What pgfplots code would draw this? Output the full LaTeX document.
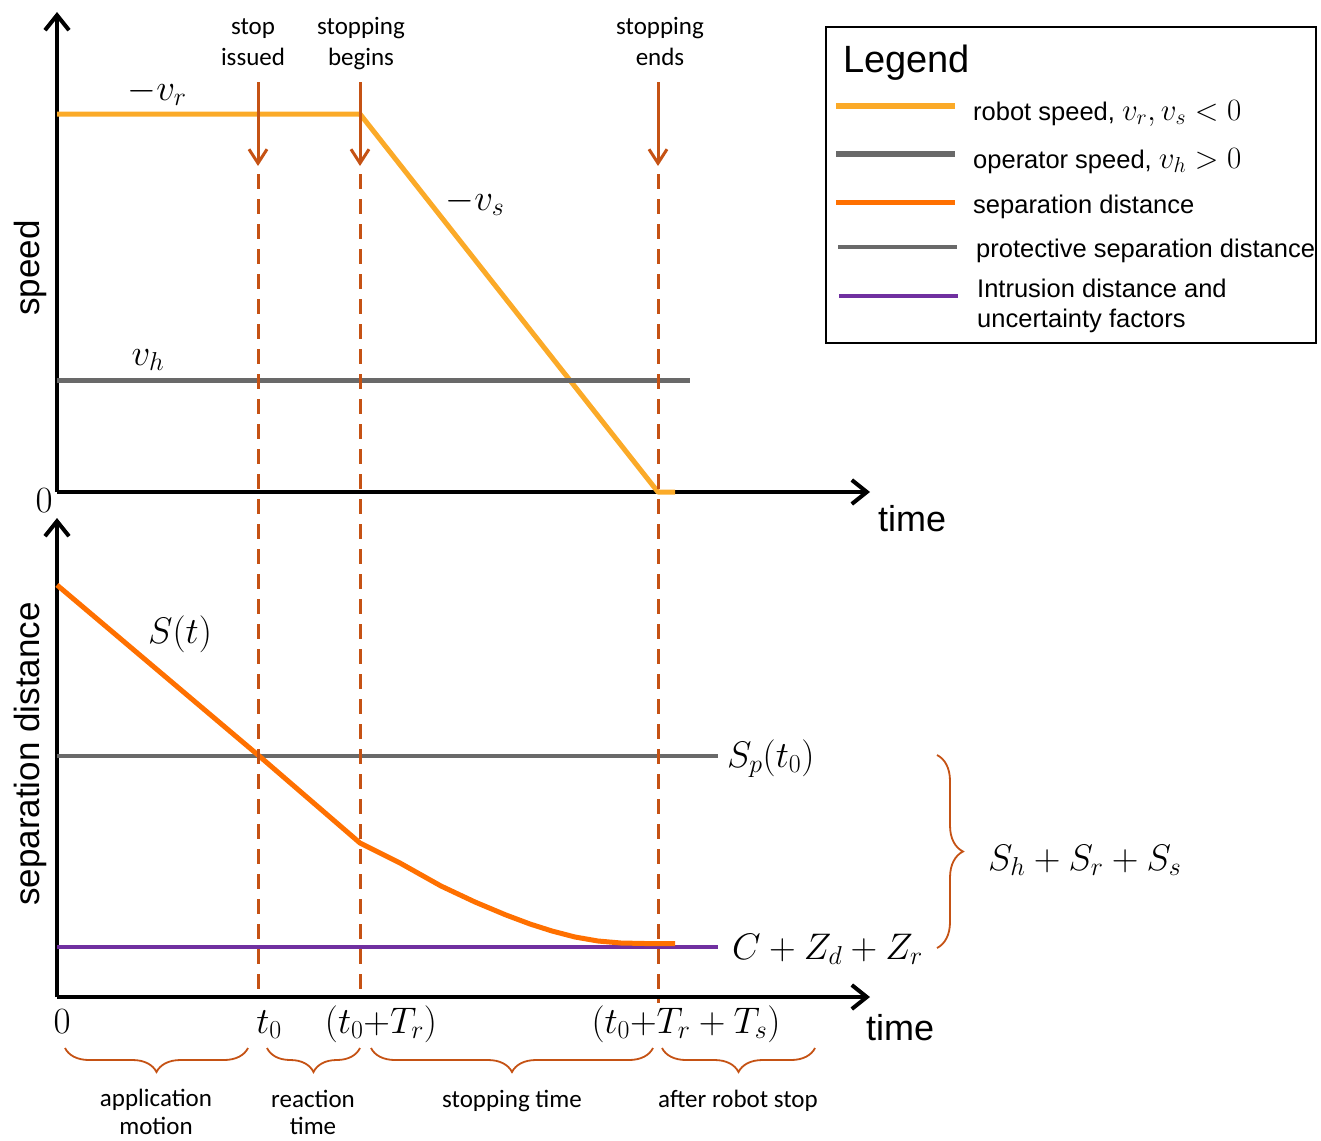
\RequirePackage{fix-cm}
\documentclass[border=0pt]{standalone}
\usepackage{fontspec}
\setmainfont{Liberation Sans}
\newfontfamily\calfont{Carlito}
\usepackage{pgfplots}
\pgfplotsset{compat=1.18}
\usetikzlibrary{arrows.meta,decorations.pathreplacing}

\definecolor{robot}{RGB}{251,170,40}
\definecolor{sepd}{RGB}{255,112,0}
\definecolor{opgray}{RGB}{105,105,105}
\definecolor{intr}{RGB}{112,48,160}
\definecolor{dashc}{RGB}{197,82,20}

\newcommand{\mfont}{\fontsize{37}{44}\selectfont}
\newcommand{\cfont}{\calfont\fontsize{25}{30}\selectfont}
\newcommand{\lfont}{\fontsize{25.5}{30}\selectfont}
\newcommand{\lm}[1]{{\fontsize{31}{36}\selectfont$#1$}}

\begin{document}
\begin{tikzpicture}[x=1pt,y=1pt]
\pgfplotsset{pxaxis/.style={scale only axis, width=813pt, xmin=57, xmax=870,
  axis lines=left, axis line style={line width=4pt,-{Straight Barb[length=15pt,width=24pt]}},
  xtick=\empty, ytick=\empty, clip=false}}

% upper: speed
\begin{axis}[pxaxis, at={(57pt,-492pt)}, anchor=south west, height=480pt, ymin=-492, ymax=-12]
\addplot[robot, line width=5pt, line join=round] coordinates {(57,-114) (360,-114) (658,-492) (675,-492)};
\addplot[opgray, line width=5pt] coordinates {(57,-380) (690,-380)};
\end{axis}

% lower: separation distance
\begin{axis}[pxaxis, at={(57pt,-997pt)}, anchor=south west, height=479pt, ymin=-997, ymax=-518]
\addplot[opgray, line width=4pt] coordinates {(57,-756) (718,-756)};
\addplot[intr, line width=4pt] coordinates {(57,-947) (718,-947)};
\addplot[sepd, line width=5pt, line join=round] coordinates {
(57,-585) (258,-755) (360,-843) (400,-863) (441,-886) (475,-902) (506,-915)
(530,-924) (552,-931) (575,-937) (598,-941) (621,-943) (645,-943.5) (675,-943.5)};
\end{axis}

% dashed event lines and arrows
\foreach \xx/\yb in {258/997, 360/997, 658/1003}{
  \draw[dashc, line width=3pt, dash pattern=on 15pt off 10pt] (\xx,-174) -- (\xx,-\yb);
  \draw[dashc, line width=3pt, -{Straight Barb[length=14pt,width=18pt]}] (\xx,-82) -- (\xx,-166);
}

% event labels
\node[font=\cfont, anchor=base] at (253,-35) {stop};
\node[font=\cfont, anchor=base] at (253,-65) {issued};
\node[font=\cfont, anchor=base] at (361,-35) {stopping};
\node[font=\cfont, anchor=base] at (361,-65) {begins};
\node[font=\cfont, anchor=base] at (660,-35) {stopping};
\node[font=\cfont, anchor=base] at (660,-65) {ends};

% math labels upper
\node[font=\mfont, anchor=base] at (157,-100) {$-v_r$};
\node[font=\mfont, anchor=base] at (475,-210) {$-v_s$};
\node[font=\mfont, anchor=base] at (148,-365) {$v_h$};
\node[font=\mfont, anchor=base] at (44,-512) {$0$};

% axis titles
\node[font=\fontsize{35}{42}\selectfont, rotate=90] at (30,-268) {speed};
\node[font=\fontsize{35}{42}\selectfont, rotate=90] at (30,-754) {separation distance};
\node[font=\fontsize{36}{43}\selectfont, anchor=base west, inner sep=0] at (878,-531) {time};
\node[font=\fontsize{36}{43}\selectfont, anchor=base west, inner sep=0] at (866,-1040) {time};

% lower labels
\node[font=\mfont, anchor=base] at (180,-643) {$S(t)$};
\node[font=\mfont, anchor=base west, inner sep=0] at (727,-767) {$S_p(t_0)$};
\node[font=\mfont, anchor=base west, inner sep=0] at (732,-959) {$C + Z_d + Z_r$};
\node[font=\mfont, anchor=base west, inner sep=0] at (988,-870) {$S_h + S_r + S_s$};
\draw[dashc, line width=1.8pt, decorate, decoration={brace, amplitude=26pt}] (937,-755) -- (937,-948);

% time labels
\node[font=\mfont, anchor=base] at (62,-1033) {$0$};
\node[font=\mfont, anchor=base] at (269,-1033) {$t_0$};
\node[font=\mfont, anchor=base] at (381,-1033) {$(t_0{+}T_r)$};
\node[font=\mfont, anchor=base] at (686,-1033) {$(t_0{+}T_r + T_s)$};

% underbraces
\foreach \a/\b in {248/65, 360/267, 653/371, 815/662}{
  \draw[dashc, line width=1.8pt, decorate, decoration={brace, amplitude=24pt}] (\a,-1048) -- (\b,-1048);
}
\node[font=\cfont, anchor=base] at (156,-1106) {application};
\node[font=\cfont, anchor=base] at (156,-1134) {motion};
\node[font=\cfont, anchor=base] at (313,-1107) {reaction};
\node[font=\cfont, anchor=base] at (313,-1134) {time};
\node[font=\cfont, anchor=base] at (512,-1107) {stopping time};
\node[font=\cfont, anchor=base] at (738,-1107) {after robot stop};

% legend
\draw[line width=2.5pt] (826,-27) rectangle (1316,-343);
\node[anchor=base west, inner sep=0, font=\fontsize{38}{46}\selectfont] at (843,-72) {Legend};
\draw[robot, line width=5.5pt] (836,-106) -- (955,-106);
\draw[opgray, line width=5.5pt] (836,-154) -- (955,-154);
\draw[sepd, line width=5pt] (836,-202) -- (955,-202);
\draw[opgray, line width=3.5pt] (838,-247) -- (957,-247);
\draw[intr, line width=3.5pt] (839,-296) -- (958,-296);
\node[anchor=base west, inner sep=0, font=\lfont] at (973,-120) {robot speed, \lm{v_r, v_s < 0}};
\node[anchor=base west, inner sep=0, font=\lfont] at (973,-168) {operator speed, \lm{v_h > 0}};
\node[anchor=base west, inner sep=0, font=\lfont] at (973,-213) {separation distance};
\node[anchor=base west, inner sep=0, font=\lfont] at (976,-257) {protective separation distance};
\node[anchor=base west, inner sep=0, font=\lfont] at (977,-297) {Intrusion distance and};
\node[anchor=base west, inner sep=0, font=\lfont] at (977,-327) {uncertainty factors};

\pgfresetboundingbox
\path (0,0) rectangle (1321,-1140);
\end{tikzpicture}
\end{document}
